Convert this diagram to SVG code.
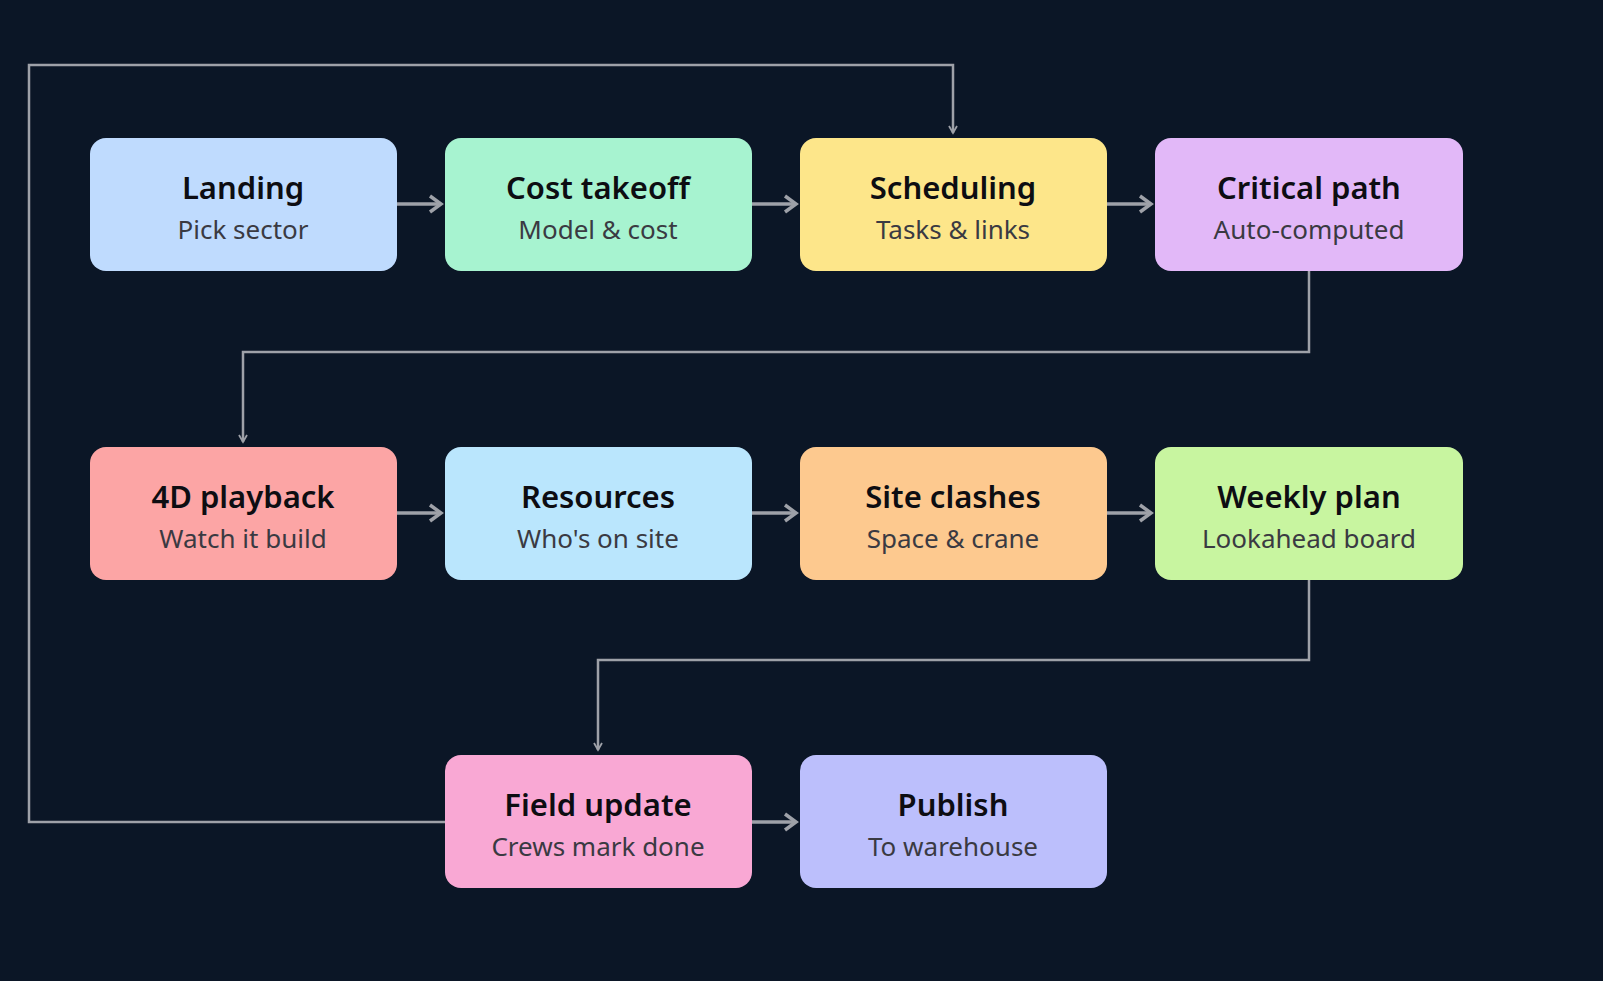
<svg xmlns="http://www.w3.org/2000/svg" width="1603" height="981" viewBox="0 0 1603 981">
<style>
.n rect{rx:16;ry:16}
.t{font-family:"Noto Sans","Open Sans",sans-serif;font-weight:600;font-size:31px;fill:#0d0d12;text-anchor:middle}
.s{font-family:"Noto Sans","Open Sans",sans-serif;font-size:26px;fill:#3a3a42;text-anchor:middle}
.c{fill:none;stroke:#9ea1a8;stroke-width:2.5}
.h{fill:none;stroke:#9ea1a8;stroke-width:3.5}
</style>
<defs>
<marker id="a" markerWidth="10" markerHeight="10" refX="8" refY="5" orient="auto" markerUnits="userSpaceOnUse"><path d="M1,1 L8,5 L1,9" fill="none" stroke="#9ea1a8" stroke-width="1.8"/></marker>
<marker id="b" markerWidth="20" markerHeight="20" refX="16" refY="10" orient="auto" markerUnits="userSpaceOnUse"><path d="M5,2 L16,10 L5,18" fill="none" stroke="#9ea1a8" stroke-width="3.5"/></marker>
</defs>
<rect width="1603" height="981" fill="#0b1626"/>
<g id="connectors">
<path class="c" d="M445,822 H29 V65 H953 V133" marker-end="url(#a)"/>
<path class="c" d="M1309,271 V352 H243 V442" marker-end="url(#a)"/>
<path class="c" d="M1309,580 V660 H598 V750" marker-end="url(#a)"/>
<path class="h" d="M397,204 H441" marker-end="url(#b)"/>
<path class="h" d="M752,204 H796" marker-end="url(#b)"/>
<path class="h" d="M1107,204 H1151" marker-end="url(#b)"/>
<path class="h" d="M397,513 H441" marker-end="url(#b)"/>
<path class="h" d="M752,513 H796" marker-end="url(#b)"/>
<path class="h" d="M1107,513 H1151" marker-end="url(#b)"/>
<path class="h" d="M752,822 H796" marker-end="url(#b)"/>
</g>
<g id="landing" class="n"><rect x="90" y="138" width="307" height="133" fill="#bfdbfe"/><text class="t" x="243" y="199">Landing</text><text class="s" x="243" y="239">Pick sector</text></g>
<g id="cost" class="n"><rect x="445" y="138" width="307" height="133" fill="#a7f3d0"/><text class="t" x="598" y="199">Cost takeoff</text><text class="s" x="598" y="239">Model &amp; cost</text></g>
<g id="sched" class="n"><rect x="800" y="138" width="307" height="133" fill="#fde68a"/><text class="t" x="953" y="199">Scheduling</text><text class="s" x="953" y="239">Tasks &amp; links</text></g>
<g id="crit" class="n"><rect x="1155" y="138" width="308" height="133" fill="#e2b8f8"/><text class="t" x="1309" y="199">Critical path</text><text class="s" x="1309" y="239">Auto-computed</text></g>
<g id="play" class="n"><rect x="90" y="447" width="307" height="133" fill="#fca5a5"/><text class="t" x="243" y="508">4D playback</text><text class="s" x="243" y="548">Watch it build</text></g>
<g id="res" class="n"><rect x="445" y="447" width="307" height="133" fill="#bae6fd"/><text class="t" x="598" y="508">Resources</text><text class="s" x="598" y="548">Who's on site</text></g>
<g id="site" class="n"><rect x="800" y="447" width="307" height="133" fill="#fdc98f"/><text class="t" x="953" y="508">Site clashes</text><text class="s" x="953" y="548">Space &amp; crane</text></g>
<g id="weekly" class="n"><rect x="1155" y="447" width="308" height="133" fill="#c8f5a0"/><text class="t" x="1309" y="508">Weekly plan</text><text class="s" x="1309" y="548">Lookahead board</text></g>
<g id="field" class="n"><rect x="445" y="755" width="307" height="133" fill="#f9a8d4"/><text class="t" x="598" y="816">Field update</text><text class="s" x="598" y="856">Crews mark done</text></g>
<g id="publish" class="n"><rect x="800" y="755" width="307" height="133" fill="#bcbffc"/><text class="t" x="953" y="816">Publish</text><text class="s" x="953" y="856">To warehouse</text></g>
</svg>
